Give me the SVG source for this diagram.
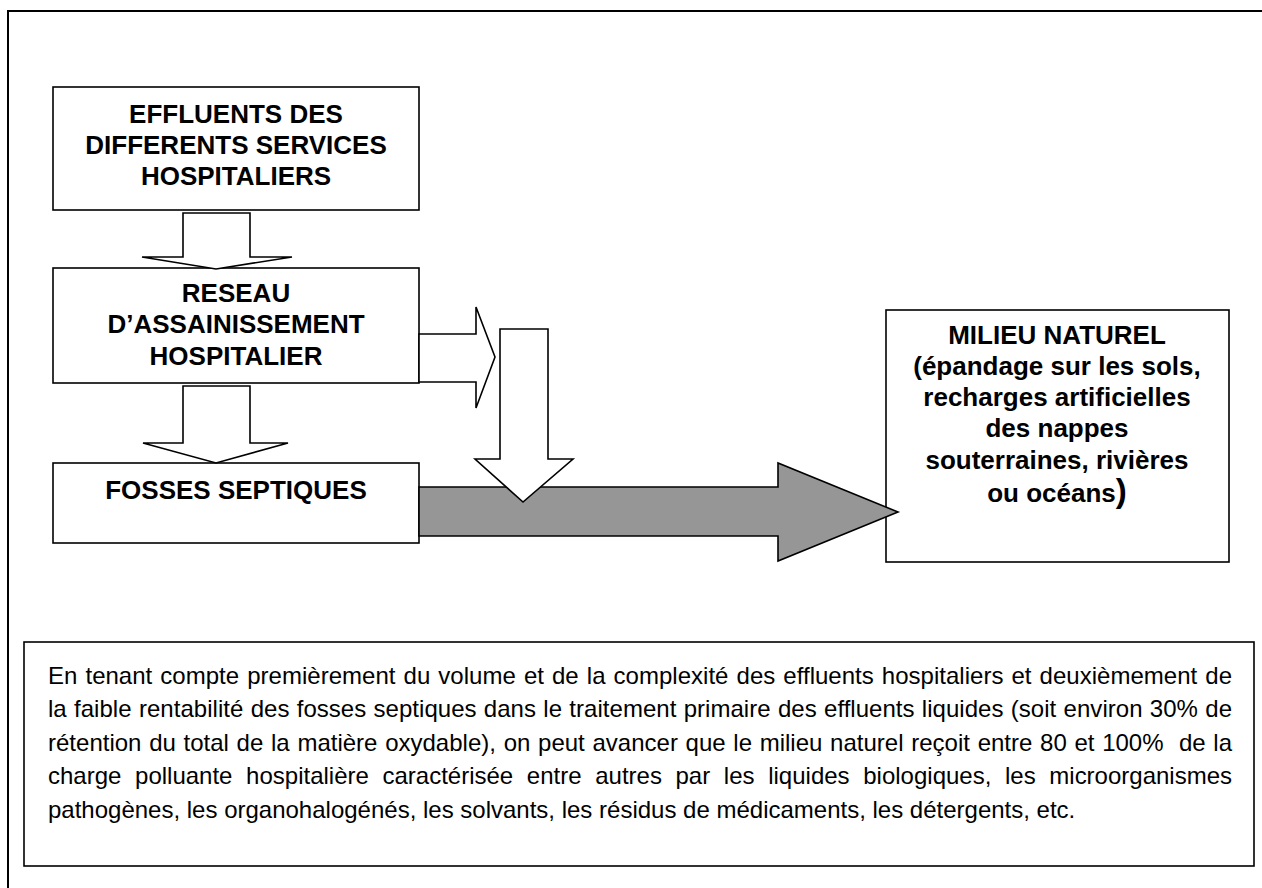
<svg xmlns="http://www.w3.org/2000/svg" width="1262" height="888" viewBox="0 0 1262 888">
<style>
.box{fill:#fff;stroke:#000;stroke-width:1.6}
.frame{fill:none;stroke:#000;stroke-width:2}
.arw{fill:#fff;stroke:#000;stroke-width:1.6;stroke-linejoin:miter}
.garw{fill:#969696;stroke:#000;stroke-width:1.6}
.lbl{font-family:"Liberation Sans",Arial,sans-serif;font-weight:bold;font-size:26px;fill:#000;text-anchor:middle}
.para{font-family:"Liberation Sans",Arial,sans-serif;font-size:24px;fill:#000;white-space:pre}
</style>
<rect width="1262" height="888" fill="#fff"/>
<rect class="frame" x="8" y="11" width="1264" height="890"/>

<g id="node-effluents">
<rect class="box" x="53" y="87" width="366" height="123"/>
<text class="lbl" x="236" y="123">EFFLUENTS DES</text>
<text class="lbl" x="236" y="154">DIFFERENTS SERVICES</text>
<text class="lbl" x="236" y="185">HOSPITALIERS</text>
</g>

<g id="node-reseau">
<rect class="box" x="53" y="268" width="366" height="115"/>
<text class="lbl" x="236" y="302">RESEAU</text>
<text class="lbl" x="236" y="333">D’ASSAINISSEMENT</text>
<text class="lbl" x="236" y="365">HOSPITALIER</text>
</g>

<g id="node-fosses">
<rect class="box" x="53" y="463" width="366" height="80"/>
<text class="lbl" x="236" y="499">FOSSES SEPTIQUES</text>
</g>

<g id="node-milieu">
<rect class="box" x="886" y="310" width="343" height="252"/>
<text class="lbl" x="1057" y="344">MILIEU NATUREL</text>
<text class="lbl" x="1057" y="375">(épandage sur les sols,</text>
<text class="lbl" x="1057" y="406">recharges artificielles</text>
<text class="lbl" x="1057" y="437">des nappes</text>
<text class="lbl" x="1057" y="469">souterraines, rivières</text>
<text class="lbl" x="1057" y="502">ou océans<tspan font-size="33px">)</tspan></text>
</g>

<g id="connectors">
<polygon class="arw" points="183,213 250,213 250,257 292,257 216,269 142,257 183,257"/>
<polygon class="arw" points="183,386 250,386 250,443 288,443 216,463 143,443 183,443"/>
<polygon class="arw" points="419,334 476,334 476,307 495,357 476,408 476,382 419,382"/>
<polygon class="garw" points="419,487 778,487 778,463 898,512 778,561 778,536 419,536"/>
<polygon class="arw" points="500,329 548,329 548,459 573,459 523,502 475,459 500,459"/>
</g>

<g id="node-note">
<rect class="box" x="24" y="642" width="1230" height="224" stroke-width="2"/>
<text class="para" x="48" y="684" word-spacing="1.4" textLength="1184" lengthAdjust="spacing">En tenant compte premièrement du volume et de la complexité des effluents hospitaliers et deuxièmement de</text>
<text class="para" x="48" y="717" word-spacing="0.6" textLength="1184" lengthAdjust="spacing">la faible rentabilité des fosses septiques dans le traitement primaire des effluents liquides (soit environ 30% de</text>
<text class="para" x="48" y="751" word-spacing="1" textLength="1184" lengthAdjust="spacing">rétention du total de la matière oxydable), on peut avancer que le milieu naturel reçoit entre 80 et 100%  de la</text>
<text class="para" x="48" y="784" word-spacing="7" textLength="1184" lengthAdjust="spacing">charge polluante hospitalière caractérisée entre autres par les liquides biologiques, les microorganismes</text>
<text class="para" x="48" y="818">pathogènes, les organohalogénés, les solvants, les résidus de médicaments, les détergents, etc.</text>
</g>
</svg>
